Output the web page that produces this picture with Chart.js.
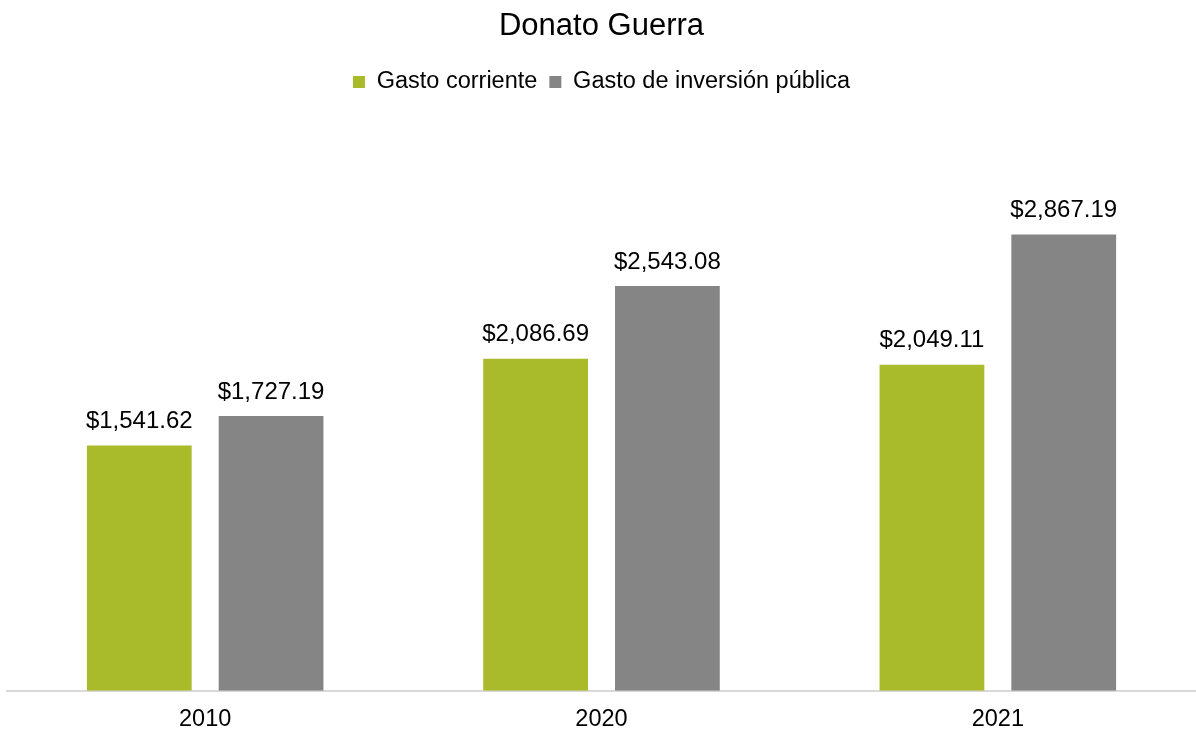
<!DOCTYPE html>
<html><head><meta charset="utf-8">
<script src="https://cdn.jsdelivr.net/npm/chart.js@4"></script>
<style>html,body{margin:0;padding:0;background:#fff}#w{width:1196px;height:732px}</style>
</head><body><div id="w"><canvas id="c" width="1196" height="732"></canvas></div>
<script>
const categories = ["2010", "2020", "2021"];
const gastoCorriente = [1541.62, 2086.69, 2049.11];
const gastoInversion = [1727.19, 2543.08, 2867.19];
const seriesNames = ["Gasto corriente", "Gasto de inversión pública"];

const FONT = "'Liberation Sans', Arial, sans-serif";
const fmt = v => "$" + v.toLocaleString("en-US", {minimumFractionDigits: 2, maximumFractionDigits: 2});

const valueLabels = {
  id: "valueLabels",
  afterDatasetsDraw(chart) {
    const ctx = chart.ctx;
    ctx.save();
    ctx.font = "24px " + FONT;
    ctx.fillStyle = "#000";
    ctx.textAlign = "center";
    ctx.textBaseline = "middle";
    chart.data.datasets.forEach((ds, i) => {
      chart.getDatasetMeta(i).data.forEach((el, j) => {
        ctx.fillText(fmt(ds.data[j]), el.x, el.y - 24);
      });
    });
    ctx.restore();
  }
};

const legendSpace = {
  id: "legendSpace",
  beforeInit(chart) {
    const origFit = chart.legend.fit;
    chart.legend.fit = function () {
      origFit.call(this);
      this.height += 30;
    };
  }
};

new Chart(document.getElementById("c"), {
  type: "bar",
  data: {
    labels: categories,
    datasets: [
      {label: seriesNames[0], data: gastoCorriente, backgroundColor: "#A9BA2A", categoryPercentage: 0.665, barPercentage: 0.795},
      {label: seriesNames[1], data: gastoInversion, backgroundColor: "#858585", categoryPercentage: 0.665, barPercentage: 0.795}
    ]
  },
  options: {
    responsive: false,
    animation: false,
    layout: {padding: {left: 7, right: 0, top: 4, bottom: -17}},
    plugins: {
      title: {display: true, text: "Donato Guerra", color: "#000", font: {family: FONT, size: 31, weight: "normal"}, padding: {top: 4, bottom: 13}},
      legend: {
        labels: {color: "#000", boxWidth: 12, boxHeight: 12, padding: 12, font: {family: FONT, size: 23.5}},
        onClick: null
      },
      tooltip: {enabled: false}
    },
    scales: {
      x: {
        grid: {display: false, drawTicks: false},
        border: {display: true, color: "#d9d9d9", width: 2},
        ticks: {color: "#000", padding: 15, font: {family: FONT, size: 23.5}}
      },
      y: {
        display: false,
        min: 0, max: 3500
      }
    }
  },
  plugins: [legendSpace, valueLabels]
});
</script></body></html>
